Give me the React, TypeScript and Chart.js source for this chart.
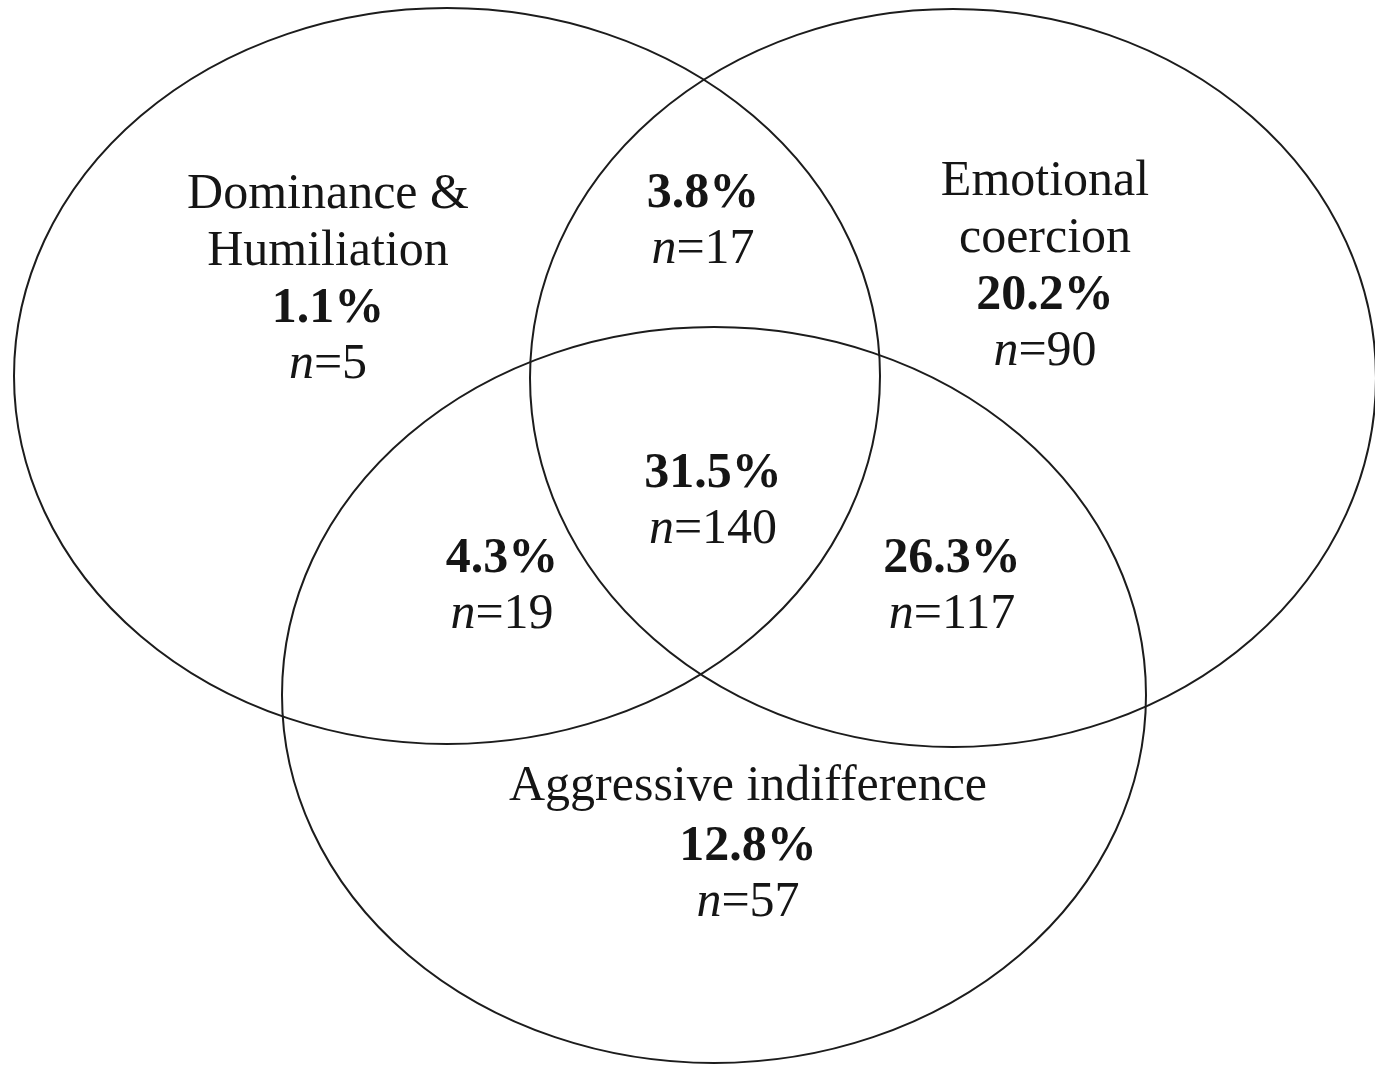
import React, { useEffect, useRef } from "react";
import { Chart, registerables } from "chart.js";

Chart.register(...registerables);

// ---- data ----
const setNames = ["Dominance & Humiliation", "Emotional coercion", "Aggressive indifference"];
const setNameLines = [["Dominance &", "Humiliation"], ["Emotional", "coercion"], ["Aggressive indifference"]];
// regions: D only, E only, A only, D∩E, D∩A, E∩A, D∩E∩A
const regionKeys = ["D", "E", "A", "DE", "DA", "EA", "DEA"];
const regionPercents = [1.1, 20.2, 12.8, 3.8, 4.3, 26.3, 31.5];
const regionCounts = [5, 90, 57, 17, 19, 117, 140];

// ---- layout (data units = pixels of the 1375x1065 frame) ----
const ellipseCx = [447, 953, 714];
const ellipseCy = [376, 378, 695];
const ellipseRx = [433, 423, 432];
const ellipseRy = [368, 369, 368];
// label anchor (center x, baseline of first line) for each region
const labelX = [328, 1045, 748, 703, 502, 952, 713];
const labelY = [208, 195, 800, 207, 572, 572, 487];
const lineGap = 57;

const FONT = '"Liberation Serif", "Times New Roman", serif';
const FONT_SIZE = 50;

const vennPlugin = {
  id: "venn",
  afterDraw(chart: any) {
    const ctx: CanvasRenderingContext2D = chart.ctx;
    const xs = chart.scales.x;
    const ys = chart.scales.y;
    ctx.save();
    // ellipses
    ctx.strokeStyle = "#1c1c1c";
    ctx.lineWidth = 2;
    for (let i = 0; i < ellipseCx.length; i++) {
      const cx = xs.getPixelForValue(ellipseCx[i]);
      const cy = ys.getPixelForValue(ellipseCy[i]);
      const rx = Math.abs(xs.getPixelForValue(ellipseCx[i] + ellipseRx[i]) - cx);
      const ry = Math.abs(ys.getPixelForValue(ellipseCy[i] + ellipseRy[i]) - cy);
      ctx.beginPath();
      ctx.ellipse(cx, cy, rx, ry, 0, 0, Math.PI * 2);
      ctx.stroke();
    }
    // labels
    ctx.fillStyle = "#151515";
    ctx.textBaseline = "alphabetic";
    ctx.textAlign = "left";
    const regular = `${FONT_SIZE}px ${FONT}`;
    const bold = `bold ${FONT_SIZE}px ${FONT}`;
    const italic = `italic ${FONT_SIZE}px ${FONT}`;
    const drawCentered = (text: string, font: string, x: number, y: number) => {
      ctx.font = font;
      const w = ctx.measureText(text).width;
      ctx.fillText(text, x - w / 2, y);
    };
    for (let r = 0; r < regionKeys.length; r++) {
      const x = xs.getPixelForValue(labelX[r]);
      let y = ys.getPixelForValue(labelY[r]);
      const lines: string[] = r < 3 ? setNameLines[r] : [];
      for (const ln of lines) {
        drawCentered(ln, regular, x, y);
        y += lineGap + (r === 2 ? 3 : 0);
      }
      drawCentered(`${regionPercents[r].toFixed(1)}%`, bold, x, y);
      y += lineGap - 1;
      // italic n + regular =count
      ctx.font = italic;
      const wn = ctx.measureText("n").width;
      ctx.font = regular;
      const rest = `=${regionCounts[r]}`;
      const wr = ctx.measureText(rest).width;
      const start = x - (wn + wr) / 2;
      ctx.font = italic;
      ctx.fillText("n", start, y);
      ctx.font = regular;
      ctx.fillText(rest, start + wn, y);
    }
    ctx.restore();
  },
};

export default function App() {
  const ref = useRef<HTMLCanvasElement | null>(null);
  useEffect(() => {
    document.body.style.margin = "0";
    document.body.style.background = "#ffffff";
    if (!ref.current) return;
    const chart = new Chart(ref.current, {
      type: "scatter",
      data: {
        datasets: [
          {
            label: "Set centers",
            data: ellipseCx.map((x, i) => ({ x, y: ellipseCy[i] })),
            pointRadius: 0,
            pointHoverRadius: 0,
          },
        ],
      },
      options: {
        animation: false,
        responsive: false,
        maintainAspectRatio: false,
        layout: { padding: 0 },
        plugins: {
          legend: { display: false },
          tooltip: { enabled: false },
          title: { display: false, text: setNames.join(" / ") },
        },
        scales: {
          x: { type: "linear", min: 0, max: 1375, display: false },
          y: { type: "linear", min: 0, max: 1065, reverse: true, display: false },
        },
      },
      plugins: [vennPlugin],
    });
    return () => chart.destroy();
  }, []);
  return (
    <div style={{ position: "absolute", left: 0, top: 0, width: 1375, height: 1065, background: "#fff" }}>
      <canvas ref={ref} width={1375} height={1065} style={{ width: 1375, height: 1065 }} />
    </div>
  );
}
